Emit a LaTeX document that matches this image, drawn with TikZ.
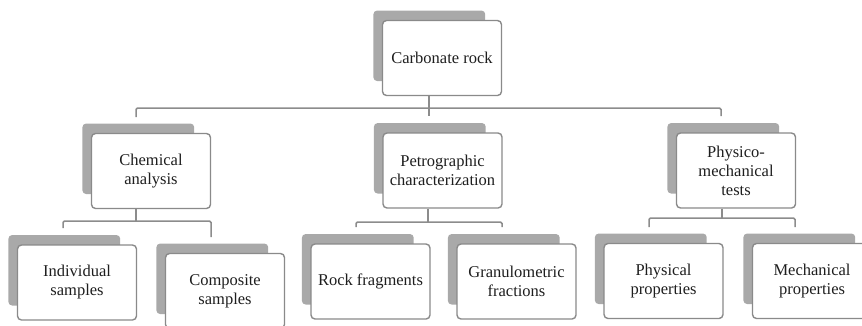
\documentclass[tikz,border=0pt]{standalone}
\usepackage{fontspec}
\setmainfont{Liberation Serif}
\usetikzlibrary{shadows}

\definecolor{edgegray}{HTML}{8A8A8A}
\definecolor{shadegray}{HTML}{A9A9A9}
\definecolor{linegray}{HTML}{8C8C8C}
\definecolor{inkdark}{HTML}{1E1E1E}

\begin{document}
\begin{tikzpicture}[x=1pt,y=-1pt,
  card/.style={draw=edgegray, line width=1.4pt, fill=white, rounded corners=4pt,
    minimum width=119pt, minimum height=75pt, inner sep=2pt, align=center,
    text=inkdark, font=\fontsize{16.5}{19}\selectfont,
    general shadow={fill=shadegray, shadow xshift=-13.5pt, shadow yshift=13pt, shadow scale=0.94}},
  link/.style={draw=linegray, line width=1.5pt, rounded corners=1.5pt}]
\useasboundingbox (0,0) rectangle (862,325);
\clip (0,0) rectangle (862,325);

% boxes
\node[card] (carb)  at (442,58)      {Carbonate rock};
\node[card] (chem)  at (151,171)     {Chemical\\analysis};
\node[card] (petro) at (442.5,170.5) {Petrographic\\characterization};
\node[card] (phys)  at (736,170.5)   {Physico-\\mechanical\\tests};
\node[card] (indiv) at (77,282.5)    {Individual\\samples};
\node[card] (comp)  at (225,291)     {Composite\\samples};
\node[card] (rock)  at (370.5,281.5) {Rock fragments};
\node[card] (gran)  at (516.5,281.5) {Granulometric\\fractions};
\node[card] (prop)  at (663.5,281)   {Physical\\properties};
\node[card] (mech)  at (812,281)     {Mechanical\\properties};

% junctions and connector ends
\coordinate (hubA) at (429,108);
\coordinate (chemIn) at (136,117);
\coordinate (petroIn) at (429,116);
\coordinate (physIn) at (721,116);

\coordinate (hubB) at (136,221);
\coordinate (indivIn) at (63,228);
\coordinate (compIn) at (211,237);

\coordinate (hubC) at (428,222);
\coordinate (rockIn) at (356,227);
\coordinate (granIn) at (502,227);

\coordinate (hubD) at (722,218);
\coordinate (propIn) at (649,227);
\coordinate (mechIn) at (795,227);

% level 1
\draw[link] (carb.south -| hubA) -- (petroIn);
\draw[link] (chemIn) |- (hubA) -| (physIn);

% level 2
\draw[link] (chem.south -| hubB) -- (hubB);
\draw[link] (indivIn) |- (hubB) -| (compIn);

\draw[link] (petro.south -| hubC) -- (hubC);
\draw[link] (rockIn) |- (hubC) -| (granIn);

\draw[link] (phys.south -| hubD) -- (hubD);
\draw[link] (propIn) |- (hubD) -| (mechIn);
\end{tikzpicture}
\end{document}
